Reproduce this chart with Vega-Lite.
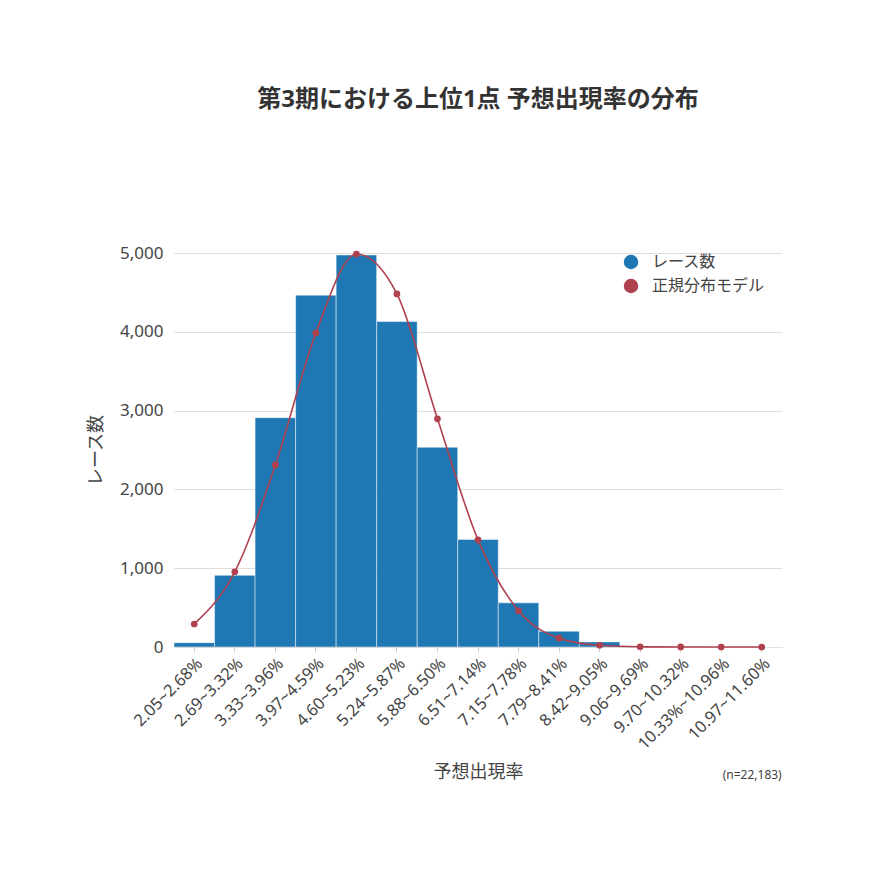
{
  "$schema": "https://vega.github.io/schema/vega-lite/v6.json",
  "autosize": {"type": "none"},
  "padding": {"left": 174, "top": 253, "right": 88, "bottom": 223},
  "width": 608,
  "height": 394,
  "background": "white",
  "config": {
    "font": "Noto Sans, Noto Sans CJK JP",
    "view": {"stroke": null},
    "axis": {"labelColor": "#444", "titleColor": "#444", "titleFontWeight": "normal"}
  },
  "title": {
    "text": "第3期における上位1点 予想出現率の分布",
    "fontSize": 24,
    "fontWeight": "bold",
    "color": "#333",
    "anchor": "middle",
    "offset": 132
  },
  "data": {
    "values": [
      {"bin": "2.05~2.68%", "count": 55, "model": 292},
      {"bin": "2.69~3.32%", "count": 910, "model": 955},
      {"bin": "3.33~3.96%", "count": 2910, "model": 2310},
      {"bin": "3.97~4.59%", "count": 4465, "model": 3985},
      {"bin": "4.60~5.23%", "count": 4975, "model": 4987},
      {"bin": "5.24~5.87%", "count": 4130, "model": 4480},
      {"bin": "5.88~6.50%", "count": 2535, "model": 2895},
      {"bin": "6.51~7.14%", "count": 1365, "model": 1360},
      {"bin": "7.15~7.78%", "count": 560, "model": 460},
      {"bin": "7.79~8.41%", "count": 200, "model": 112},
      {"bin": "8.42~9.05%", "count": 65, "model": 22},
      {"bin": "9.06~9.69%", "count": 8, "model": 3},
      {"bin": "9.70~10.32%", "count": 2, "model": 0.4},
      {"bin": "10.33%~10.96%", "count": 1, "model": 0.03},
      {"bin": "10.97~11.60%", "count": 1, "model": 0}
    ]
  },
  "encoding": {
    "x": {
      "field": "bin",
      "type": "ordinal",
      "sort": null,
      "scale": {"paddingInner": 0, "paddingOuter": 0},
      "axis": {
        "title": "予想出現率",
        "titleFontSize": 18,
        "titlePadding": 11,
        "labelAngle": -45,
        "labelFontSize": 16.5,
        "labelPadding": 3,
        "tickColor": "#ccc",
        "tickSize": 5,
        "domainColor": "#ccc",
        "grid": false
      }
    }
  },
  "layer": [
    {
      "mark": {"type": "bar", "stroke": "white", "strokeWidth": 0.6, "strokeOpacity": 0.8},
      "encoding": {
        "y": {
          "field": "count",
          "type": "quantitative",
          "scale": {"domain": [0, 5000]},
          "axis": {
            "title": "レース数",
            "titleFontSize": 18,
            "titlePadding": 14,
            "labelFontSize": 17,
            "labelPadding": 11,
            "values": [0, 1000, 2000, 3000, 4000, 5000],
            "format": ",.0f",
            "domain": false,
            "ticks": false,
            "gridColor": "#ddd"
          }
        },
        "color": {
          "datum": "レース数",
          "type": "nominal",
          "scale": {"domain": ["レース数", "正規分布モデル"], "range": ["#1f77b4", "#b0414e"]},
          "legend": {
            "title": null,
            "orient": "none",
            "legendX": 449,
            "legendY": 1,
            "symbolType": "circle",
            "symbolSize": 210,
            "symbolStrokeWidth": 0,
            "labelFontSize": 16,
            "labelColor": "#444",
            "rowPadding": 8,
            "labelOffset": 13
          }
        }
      }
    },
    {
      "mark": {"type": "line", "interpolate": "monotone", "strokeWidth": 1.6},
      "encoding": {
        "y": {"field": "model", "type": "quantitative"},
        "color": {"datum": "正規分布モデル", "type": "nominal"}
      }
    },
    {
      "mark": {"type": "point", "filled": true, "size": 45, "opacity": 1},
      "encoding": {
        "y": {"field": "model", "type": "quantitative"},
        "color": {"datum": "正規分布モデル", "type": "nominal"}
      }
    },
    {
      "data": {"values": [{"note": "(n=22,183)"}]},
      "mark": {"type": "text", "align": "right", "baseline": "middle", "fontSize": 12, "fill": "#444", "dx": 20, "dy": 128},
      "encoding": {
        "x": {"datum": "10.97~11.60%"},
        "y": {"datum": 0},
        "text": {"field": "note"}
      }
    }
  ]
}
